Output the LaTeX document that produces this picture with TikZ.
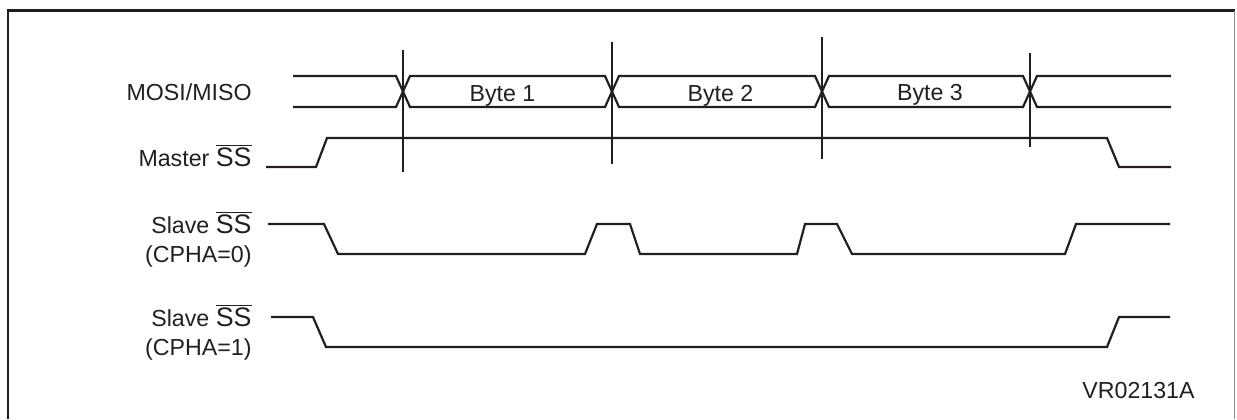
\documentclass[tikz,border=0pt]{standalone}
\usepackage{fontspec}
\setmainfont{Liberation Sans}
\usetikzlibrary{calc,positioning}
\definecolor{ink}{HTML}{231F20}
\definecolor{edgegray}{HTML}{8A8A8A}
\newcommand\barSS{{\fontsize{13.4}{14}\selectfont$\overline{\mbox{SS}}$}}
\tikzset{line width=1pt,
  every node/.style={font=\fontsize{11.6}{14}\selectfont,text=ink},
  wave/.style={draw=ink,line width=1.1pt,line join=miter},
  marker/.style={draw=ink,line width=1.1pt},
  frame/.style={draw=ink,line width=1.3pt},
  frameside/.style={draw=edgegray,line width=.6pt},
  sig/.style={anchor=base east,inner sep=0pt},
  bytelabel/.style={anchor=base,inner sep=0pt}}
\begin{document}
\begin{tikzpicture}[x=.5pt,y=-.5pt]
\useasboundingbox(0,0)rectangle(1237,419);
\draw[frame](8,419)--(8,10.5)--(1234.5,10.5);\draw[frameside](1234.5,10.5)--(1234.5,419);
\node[sig](mosi)at(252,100.5){MOSI/MISO};
\node[sig](master)at(252,166.5){Master \barSS};
\node[sig](slave0)at(252,233.5){Slave \barSS};\node[sig](cpha0)at(252,262.5){(CPHA=0)};
\node[sig](slave1)at(252,326.5){Slave \barSS};\node[sig](cpha1)at(252,355.5){(CPHA=1)};
\draw[wave](293,76)--(396,76)--(410,107)--(605,107)--(619,76)--(815,76)--(829,107)--(1023,107)--(1037,76)--(1171,76);
\draw[wave](293,107)--(396,107)--(410,76)--(605,76)--(619,107)--(815,107)--(829,76)--(1023,76)--(1037,107)--(1171,107);
\node[bytelabel](byte1)at(502.5,101){Byte 1};\node[bytelabel](byte2)at(720.5,101){Byte 2};\node[bytelabel](byte3)at(930,100){Byte 3};
\foreach \x/\a/\b in {403/50/172,612/42/164,822/37/159,1030/53/147}\draw[marker](\x,\a)--(\x,\b);
\draw[wave](266,167)--(316,167)--(327,138)--(1107,138)--(1119,167)--(1171,167);
\draw[wave](268,224)--(324,224)--(338,254)--(585,254)--(597,224)--(630,224)--(640,254)--(797,254)--(805,224)--(837,224)--(852,254)--(1065,254)--(1076,224)--(1170,224);
\draw[wave](271,317)--(313,317)--(326,347)--(1107,347)--(1119,317)--(1170,317);
\node[sig](code)at(1195,398.5){VR02131A};
\end{tikzpicture}
\end{document}
